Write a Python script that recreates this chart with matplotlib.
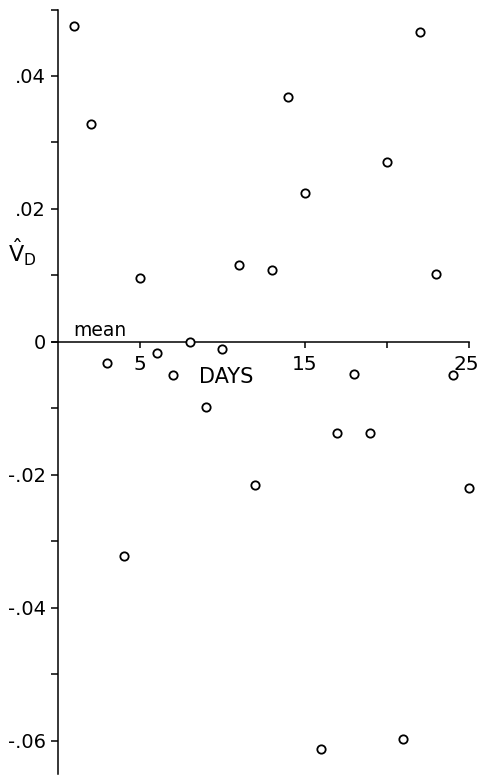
import matplotlib
matplotlib.use("Agg")
import matplotlib.pyplot as plt
import matplotlib.transforms as mtransforms
from matplotlib.ticker import FixedLocator, MultipleLocator

### data: one estimate per day
days = [1, 2, 3, 4, 5, 6, 7, 8, 9, 10, 11, 12, 13,
        14, 15, 16, 17, 18, 19, 20, 21, 22, 23, 24, 25]
vd = [0.0475, 0.0328, -0.0032, -0.0322, 0.0096, -0.0017, -0.0050, 0.0000,
      -0.0098, -0.0011, 0.0116, -0.0215, 0.0108, 0.0368, 0.0224, -0.0612,
      -0.0137, -0.0048, -0.0137, 0.0271, -0.0597, 0.0466, 0.0102, -0.0050,
      -0.0220]

x_ticks = [5, 15, 20, 25]
x_labels = ['5', '15', '', '25']
y_ticks = [0.04, 0.02, 0.0, -0.02, -0.04, -0.06]
y_labels = ['.04', '.02', '0', '-.02', '-.04', '-.06']

plt.rcParams['font.family'] = ['DejaVu Sans']

fig = plt.figure(figsize=(4.8, 7.75), dpi=100)
ax = fig.add_axes([58 / 480, 1 - 774 / 775, (469 - 58) / 480, (774 - 9.5) / 775])

### open circles
ax.plot(days, vd, linestyle='none', marker='o', markersize=6,
        markerfacecolor='white', markeredgecolor='black', markeredgewidth=1.3,
        clip_on=False, zorder=3)

ax.set_xlim(0, 25)
ax.set_ylim(-0.065, 0.05)

### axes: vertical axis at day 0, horizontal axis through the mean
ax.spines['top'].set_visible(False)
ax.spines['right'].set_visible(False)
ax.spines['bottom'].set_position(('data', 0))
ax.spines['bottom'].set_bounds(-0.35, 25)
for s in ['left', 'bottom']:
    ax.spines[s].set_linewidth(1.1)

ax.xaxis.set_major_locator(FixedLocator(x_ticks))
ax.set_xticklabels(x_labels)
ax.tick_params(axis='x', direction='out', length=4.5, width=1.1,
               pad=5, labelsize=14.5)
### keep the last label inside the picture: right edge just at the border
last = ax.get_xticklabels()[-1]
last.set_horizontalalignment('right')
last.set_transform(last.get_transform() +
                   mtransforms.ScaledTranslation(10 / 100, 0, fig.dpi_scale_trans))

ax.yaxis.set_major_locator(FixedLocator(y_ticks))
ax.set_yticklabels(y_labels)
ax.yaxis.set_minor_locator(MultipleLocator(0.01))
ax.tick_params(axis='y', which='both', direction='out', length=5, width=1.1,
               pad=3.5, labelsize=14)

### annotations
ax.text(0.9, 0.0003, 'mean', fontsize=13.5, ha='left', va='bottom')
ax.text(10.25, -0.0053, 'DAYS', fontsize=15, ha='center', va='center')
ax.text(-2.2, 0.0135, r'$\hat{\mathrm{V}}_{\mathrm{D}}$', fontsize=16,
        ha='center', va='center', clip_on=False)

plt.savefig('out.png', dpi=100)
